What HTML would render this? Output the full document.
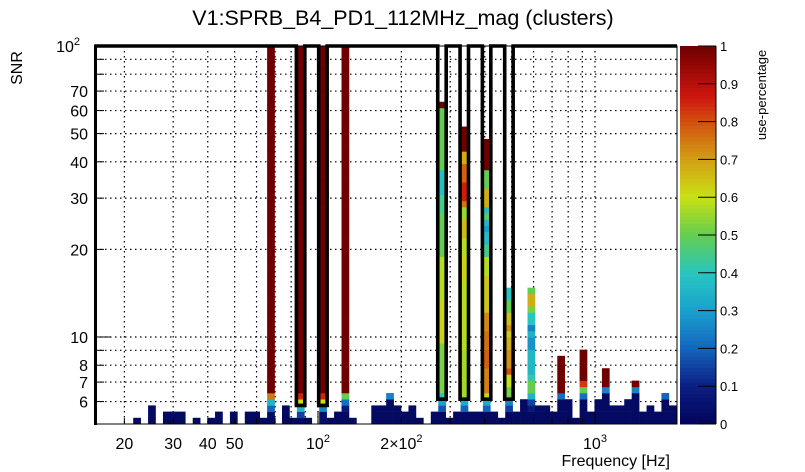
<!DOCTYPE html>
<html><head><meta charset="utf-8"><style>
html,body{margin:0;padding:0;background:#fff;}
svg{display:block;font-family:"Liberation Sans",sans-serif;}
</style></head><body>
<svg id="chart" width="805" height="472" viewBox="0 0 805 472">
<rect x="0" y="0" width="805" height="472" fill="#fff"/>
<text x="403" y="25" font-size="21.5" text-anchor="middle">V1:SPRB_B4_PD1_112MHz_mag (clusters)</text>
<text transform="translate(22,68) rotate(-90)" font-size="16" text-anchor="middle">SNR</text>
<text x="670" y="466" font-size="16" text-anchor="end">Frequency [Hz]</text>
<text transform="translate(766,95) rotate(-90)" font-size="13" text-anchor="middle">use-percentage</text>
<g id="grid"></g>
<g id="bars"></g>
<g id="outline"></g>
<g id="axes"></g>
<g id="cbar"></g>
</svg>
<script>
// ---- data ----
const yTickVals = [6,7,8,10,20,30,40,50,60,70];
const yTickLabels = ["6","7","8","10","20","30","40","50","60","70"];
const xTickVals = [20,30,40,50,100,200,1000];
const xTickLabels = ["20","30","40","50","10","2×10","10"];
const xTickSup = ["","","","","2","2","3"];
const cbarTicks = [0,0.1,0.2,0.3,0.4,0.5,0.6,0.7,0.8,0.9,1];
const binIdx = [5,7,9,10,11,13,15,16,18,20,21,22,23,25,26,27,28,30,31,32,33,34,37,38,39,40,41,42,43,45,46,47,48,49,50,51,52,53,54,55,56,57,58,59,60,61,62,63,64,65,66,67,68,69,70,71,72,73,74,75,76,77];
const binRuns = [
[[1,.02]],[[3,.02]],[[2,.02]],[[2,.02]],[[2,.02]],[[1,.02]],[[1,.02]],[[2,.02]],[[2,.02]],[[2,.02]],[[2,.02]],[[1,.02]],
[[2,.02],[1,.2],[1,.35],[1,.75],[56,1]],
[[3,.02]],[[1,.02]],
[[1,.02],[1,.15],[1,.35],[1,.6],[1,.85],[56,1]],
[[1,.02]],
[[2,.04],[1,.25],[1,.6],[1,.85],[56,1]],
[[1,.02]],[[2,.02]],
[[2,.02],[1,.08],[1,.22],[1,.5],[56,1]],
[[1,.02]],
[[3,.02]],[[3,.02]],[[4,.02],[1,.25]],[[3,.02]],[[2,.02]],[[3,.02]],[[1,.02]],[[2,.02]],
[[2,.02],[1,.18],[1,.3],[1,.4],[8,.52],[7,.62],[7,.58],[7,.5],[3,.45],[4,.38],[10,.5],[1,1]],
[[1,.02]],[[2,.02]],
[[2,.02],[1,.2],[1,.33],[8,.56],[11,.58],[4,.62],[3,.58],[3,.66],[2,.55],[1,.75],[3,.86],[3,.78],[2,.68],[4,1]],
[[2,.02]],[[2,.02]],
[[2,.02],[1,.2],[1,.33],[1,.62],[4,.74],[3,.78],[3,.76],[3,.73],[6,.64],[3,.58],[2,.45],[2,.37],[1,.3],[1,.36],[1,.48],[1,.38],[3,.68],[3,.5],[5,1]],
[[2,.02]],[[1,.02]],
[[2,.02],[1,.15],[1,.25],[2,.52],[2,.6],[1,.8],[3,.72],[2,.68],[1,.63],[1,.72],[2,.65],[2,.5],[2,.4]],
[[2,.02]],[[4,.02]],
[[2,.02],[1,.08],[1,.15],[1,.35],[2,.5],[1,.42],[4,.36],[2,.28],[1,.35],[1,.25],[2,.4],[1,.52],[2,.68],[1,.5]],
[[3,.02]],[[3,.02]],[[2,.02]],
[[4,.02],[1,.22],[6,1]],
[[4,.02]],[[1,.02]],
[[4,.02],[1,.22],[1,.5],[1,.83],[5,1]],
[[2,.02]],[[4,.02]],
[[5,.02],[1,.25],[3,1]],
[[3,.02]],[[3,.02]],[[4,.02]],
[[5,.02],[1,.25],[1,1]],
[[2,.02]],[[3,.02]],[[2,.02]],[[4,.02],[1,.2]],[[3,.02]]
];
const dipBins = [27,30,46,49,52,55];
const dipCells = [3,3,4,4,4,4];

// ---- geometry / axes ----
const X0=95, X1=677, Y0=46, Y1=424;
const xPix = f => 41 + 277*(Math.log10(f)-1);
const yPix = s => 337 + 291*(1-Math.log10(s));
const binL = i => 96 + 7.44*i;
const NY=61;
const cellY = k => Y1 - (Y1-Y0)*k/NY;
const stops=[[0,[2,4,90]],[0.1,[12,30,130]],[0.2,[20,100,190]],[0.3,[25,160,205]],[0.4,[40,198,192]],[0.5,[100,205,80]],[0.6,[200,225,20]],[0.7,[210,160,20]],[0.8,[210,80,15]],[0.87,[205,20,15]],[1,[110,0,0]]];
function col(v){v=Math.max(0,Math.min(1,v));for(let i=1;i<stops.length;i++){if(v<=stops[i][0]){const a=stops[i-1],b=stops[i],t=(v-a[0])/(b[0]-a[0]);return 'rgb('+a[1].map((c,j)=>Math.round(c+(b[1][j]-c)*t)).join(',')+')';}}return 'rgb(110,0,0)';}
const NS='http://www.w3.org/2000/svg';
function mk(tag,attrs,parent){const e=document.createElementNS(NS,tag);for(const k in attrs)e.setAttribute(k,attrs[k]);parent.appendChild(e);return e;}

// grid
const grid=document.getElementById('grid');
const gx=[20,30,40,50,60,70,80,90,100,200,300,400,500,600,700,800,900,1000];
gx.forEach(f=>{const x=xPix(f);const l=mk('line',{x1:x,x2:x,y1:Y0,y2:Y1,stroke:'#000','stroke-width':1.2,'stroke-dasharray':'1.5,3.5'},grid);

});
const gy=[6,7,8,9,10,20,30,40,50,60,70,80,90];
gy.forEach(s=>{const y=yPix(s);const l=mk('line',{x1:X0,x2:X1,y1:y,y2:y,stroke:'#000','stroke-width':1.2,'stroke-dasharray':'1.5,3.5'},grid);

});

// cells
const bars=document.getElementById('bars');
binIdx.forEach((bi,n)=>{let k=0;const x=binL(bi),w=7.44;
binRuns[n].forEach(r=>{for(let c=0;c<r[0];c++){const yt=cellY(k+1),yb=cellY(k);
const e=mk('rect',{x:x,y:yt,width:w+0.3,height:yb-yt+0.3,fill:col(r[1])},bars);

k++;}});});

// outline
let pts=[[X0,Y0]];
dipBins.forEach((b,i)=>{const xl=binL(b)-0.5,xr=binL(b+1)+0.5,yb=cellY(dipCells[i]);pts.push([xl,Y0],[xl,yb],[xr,yb],[xr,Y0]);});
pts.push([X1,Y0]);
const ol=mk('polyline',{points:pts.map(p=>p.join(',')).join(' '),fill:'none',stroke:'#000','stroke-width':3.6,'stroke-linejoin':'miter'},document.getElementById('outline'));



// axes
const ax=document.getElementById('axes');
const fr=mk('rect',{x:X0,y:Y0,width:X1-X0,height:Y1-Y0,fill:'none',stroke:'#000','stroke-width':1},ax);


const la=mk('line',{x1:X0+0.5,x2:X0+0.5,y1:Y0-1.5,y2:Y1+1,stroke:'#000','stroke-width':3},ax);


gx.forEach(f=>{const x=xPix(f);const big=[100,1000].includes(f);const t=mk('line',{x1:x,x2:x,y1:Y1,y2:Y1-(big?12:6),stroke:'#000','stroke-width':1},ax);

});
gy.concat([100]).forEach(s=>{const y=yPix(s);const t=mk('line',{x1:X0,x2:X0+(s===10||s===100?16:9),y1:y,y2:y,stroke:'#000','stroke-width':1},ax);

});
xTickVals.forEach((f,i)=>{const tx=mk('text',{x:xPix(f),y:449,'font-size':16,'text-anchor':'middle'},ax);tx.textContent=xTickLabels[i];
if(xTickSup[i]){const sp=mk('tspan',{dy:-7,'font-size':11},tx);sp.textContent=xTickSup[i];}

});
yTickVals.forEach((s,i)=>{const tx=mk('text',{x:88,y:yPix(s)+6,'font-size':16,'text-anchor':'end'},ax);tx.textContent=yTickLabels[i];

});
const t100=mk('text',{x:80,y:Y0+6,'font-size':16,'text-anchor':'end'},ax);t100.textContent='10';
const s100=mk('tspan',{dy:-7,'font-size':11},t100);s100.textContent='2';



// colorbar
const cb=document.getElementById('cbar');
const CX0=680,CX1=716;
for(let k=0;k<100;k++){const y1=Y1-(Y1-Y0)*(k+1)/100,y0=Y1-(Y1-Y0)*k/100;
const r=mk('rect',{x:CX0,y:y1,width:CX1-CX0,height:y0-y1+0.5,fill:col((k+0.5)/100)},cb);

}
const cl=mk('line',{x1:CX1,x2:CX1,y1:Y0,y2:Y1,stroke:'#000','stroke-width':1},cb);


cbarTicks.forEach(v=>{const y=Y1-(Y1-Y0)*v;
const t=mk('line',{x1:CX1-18,x2:CX1,y1:y,y2:y,stroke:'#000','stroke-width':1},cb);


const tx=mk('text',{x:720,y:y+5,'font-size':13},cb);tx.textContent=String(v);

});
</script>
</body></html>
